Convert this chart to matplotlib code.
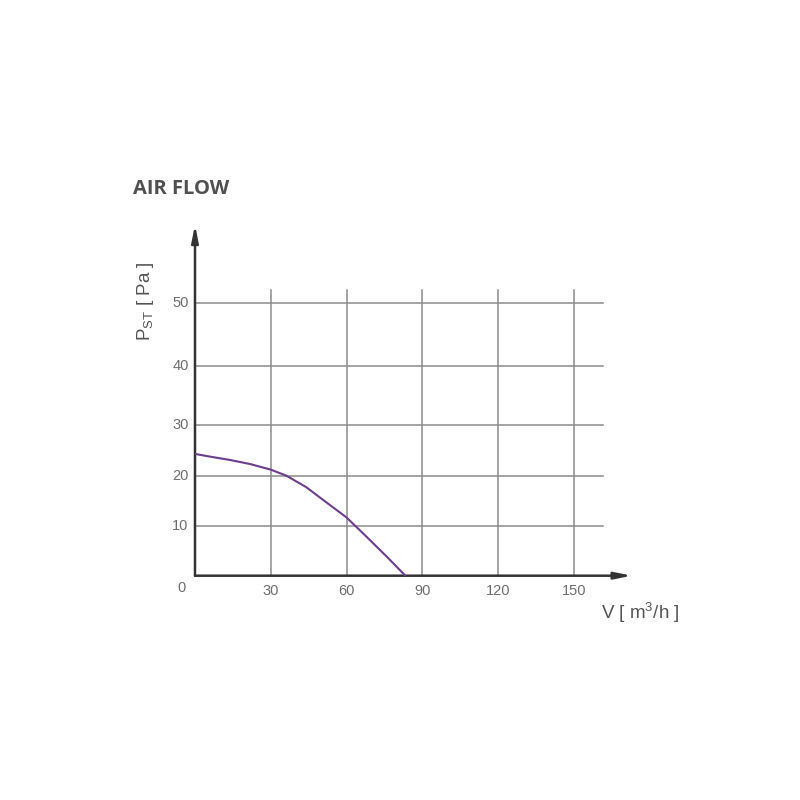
import numpy as np
import matplotlib
matplotlib.use('Agg')
import matplotlib.pyplot as plt
import matplotlib.transforms as mtransforms

# Fan curve
flow = [0, 5.5, 13.9, 21.8, 30, 36.2, 44.1, 52, 60, 68, 76, 83.3]
pressure = [24.3, 23.8, 23.1, 22.3, 21.2, 20.0, 17.7, 14.7, 11.7, 7.8, 3.8, 0]

x_ticks = [30, 60, 90, 120, 150]
y_ticks = [10, 20, 30, 40, 50]

# the y grid in the drawing is not evenly spaced, so map values onto a piecewise scale
scale_vals = [0, 10, 20, 30, 40, 50, 80]
scale_pix = [0, 49.7, 100, 150.7, 210, 273, 462]

def fwd(v):
    return np.interp(v, scale_vals, scale_pix)

def inv(p):
    return np.interp(p, scale_pix, scale_vals)

plt.rcParams['font.family'] = ['Liberation Sans', 'DejaVu Sans']

fig = plt.figure(figsize=(8, 8), dpi=100)
ax_h = 352
ax = fig.add_axes([195 / 800, 224.3 / 800, 442 / 800, ax_h / 800])
ax.set_yscale('function', functions=(fwd, inv))
ax.set_xlim(0, 175)
ax.set_ylim(0, inv(ax_h))
ax.axis('off')

grid_col = '#8c8c8c'
x_right = 161.5
y_top = inv(286)
for y in y_ticks:
    ax.plot([0, x_right], [y, y], color=grid_col, lw=1.1, zorder=1)
for x in x_ticks:
    ax.plot([x, x], [0, y_top], color=grid_col, lw=1.1, zorder=1)

# axes with arrow heads
ax.annotate('', xy=(173, 0), xytext=(0, 0),
            arrowprops=dict(arrowstyle='-|>,head_length=1.0,head_width=0.2',
                            color='#333333', lw=1.8, shrinkA=0, shrinkB=0), zorder=3)
ax.annotate('', xy=(0, inv(351)), xytext=(0, 0),
            arrowprops=dict(arrowstyle='-|>,head_length=1.0,head_width=0.2',
                            color='#333333', lw=1.8, shrinkA=0, shrinkB=0), zorder=3)

ax.plot(flow, pressure, color='#6b3f8c', lw=1.5, zorder=4, solid_capstyle='round')

tick_col = '#6e6e6e'
fs_tick = 10.5
xt = mtransforms.blended_transform_factory(ax.transData, ax.transAxes)
for x in x_ticks:
    ax.text(x, -15.5 / ax_h, str(x), transform=xt, ha='center', va='center',
            fontsize=fs_tick, color=tick_col)
for y in y_ticks:
    ax.text(-2.5, y, str(y), ha='right', va='center', fontsize=fs_tick, color=tick_col)
ax.text(-5.2, -12.5 / ax_h, '0', transform=xt, ha='center', va='center',
        fontsize=fs_tick, color=tick_col)

fig.text(145 / 800, 1 - 301 / 800, r'P$_{\mathregular{ST}}$ [ Pa ]', rotation=90,
         ha='center', va='center', fontsize=13.5, color='#555555')
fig.text(640 / 800, 1 - 613 / 800, r'V [ m$^{\mathregular{3}}$/h ]',
         ha='center', va='center', fontsize=13.5, color='#555555')
fig.text(133 / 800, 1 - 189 / 800, 'AIR FLOW', ha='left', va='center',
         fontsize=14.5, fontweight='bold', color='#505050', family=['Open Sans', 'DejaVu Sans'])

plt.savefig('out.png', dpi=100)
